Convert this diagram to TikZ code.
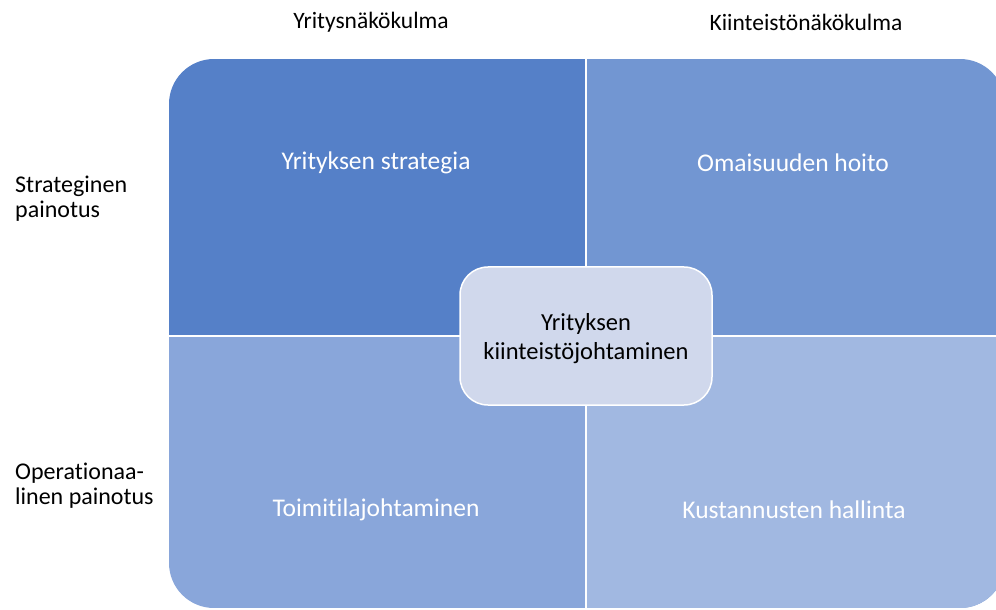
\documentclass[tikz,border=0pt]{standalone}
\usepackage{fontspec}
\setmainfont{Carlito}[Ligatures=CommonOff]
\usepackage{xcolor}
\usepackage{tikz}
\usetikzlibrary{positioning,calc}

\definecolor{quadA}{RGB}{85,128,200}
\definecolor{quadB}{RGB}{114,150,210}
\definecolor{quadC}{RGB}{137,166,218}
\definecolor{quadD}{RGB}{161,184,225}
\definecolor{centerfill}{RGB}{208,216,236}

\tikzset{
  quadtext/.style={text=white,font=\fontsize{25.5bp}{30bp}\selectfont,inner sep=0pt},
  sidetext/.style={text=black,font=\fontsize{24bp}{25bp}\selectfont,align=left,anchor=west,inner sep=0pt},
  headtext/.style={text=black,font=\fontsize{23.5bp}{26bp}\selectfont,inner sep=0pt},
  centerbox/.style={draw=white,line width=1.5bp,fill=centerfill,rounded corners=28bp,
    minimum width=252bp,minimum height=138bp,align=center,
    font=\fontsize{24.5bp}{29bp}\selectfont,text=black}
}

\begin{document}
\begin{tikzpicture}[x=1bp,y=-1bp,line cap=round,line join=round]
\useasboundingbox (0,0) rectangle (996,610);
%\fill[white] (0,0) rectangle (996,610);
\coordinate (tl) at (169,59); \coordinate (br) at (1005,608);
\coordinate (mid) at (585.5,336);
\begin{scope}
\clip[rounded corners=45bp] (tl) rectangle (br);
\fill[quadA] (tl) rectangle (mid);
\fill[quadB] (mid |- tl) rectangle (br -| br |- mid);
\fill[quadC] (tl |- mid) rectangle (mid |- br);
\fill[quadD] (mid) rectangle (br);
\end{scope}
\draw[white,line width=2bp] (mid |- tl) -- (mid |- br);
\draw[white,line width=2bp] (tl |- mid) -- (br |- mid);

\node[quadtext] (strategia) at (376,163) {Yrityksen strategia};
\node[quadtext] (hoito) at (793,163) {Omaisuuden hoito};
\node[quadtext] (toimitila) at (376,510) {Toimitilajohtaminen};
\node[quadtext] (kustannus) at (794,510) {Kustannusten hallinta};

\node[centerbox] (ydin) at (586,336) {};
\node[align=center,font=\fontsize{24.5bp}{29bp}\selectfont,inner sep=0pt] (ydinteksti) at (586,339) {Yrityksen\\kiinteistöjohtaminen};

\node[headtext] (yritys) at (371,22) {Yritysnäkökulma};
\node[headtext] (kiinteisto) at (806,22) {Kiinteistönäkökulma};
\node[sidetext] (strateginen) at (15,199) {Strateginen\\painotus};
\node[sidetext] (operatio) at (15,486) {Operationaa-\\linen painotus};
\end{tikzpicture}
\end{document}
